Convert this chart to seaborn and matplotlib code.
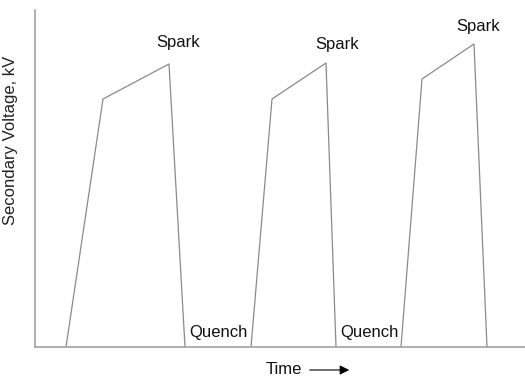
import pandas as pd
import numpy as np
import matplotlib.pyplot as plt
import seaborn as sns

# secondary voltage trace, three firing events (time, kV in arbitrary units)
wave_1_t = [31, 68, 134, 150]
wave_1_v = [0, 248, 283, 0]
wave_2_t = [216, 237, 291, 301]
wave_2_v = [0, 248, 284, 0]
wave_3_t = [366, 387, 439, 452]
wave_3_v = [0, 268, 303, 0]

waves = pd.concat([
    pd.DataFrame({'t': wave_1_t, 'v': wave_1_v, 'wave': 1}),
    pd.DataFrame({'t': wave_2_t, 'v': wave_2_v, 'wave': 2}),
    pd.DataFrame({'t': wave_3_t, 'v': wave_3_v, 'wave': 3}),
], ignore_index=True)

sns.set_theme(style="white")
plt.rcParams['font.family'] = ['Liberation Sans', 'DejaVu Sans']

fig = plt.figure(figsize=(5.25, 3.77), dpi=100)
ax = fig.add_axes([35 / 525, 30 / 377, 490 / 525, 337 / 377])

sns.lineplot(data=waves, x='t', y='v', units='wave', estimator=None, sort=False,
             color='#8a8a8a', linewidth=0.9, ax=ax)

ax.set_xlim(0, 490)
ax.set_ylim(0, 337)
ax.set_xticks([])
ax.set_yticks([])
ax.set_xlabel('')
ax.set_ylabel('Secondary Voltage, kV', fontsize=12, color='#222222')
ax.yaxis.set_label_coords(-0.035, 0.614)
sns.despine(ax=ax)
for side in ['left', 'bottom']:
    ax.spines[side].set_color('#9a9a9a')
    ax.spines[side].set_linewidth(1.1)

# labels
for x, y in [(143, 304), (302, 302), (443, 320)]:
    ax.text(x, y, 'Spark', fontsize=12, ha='center', va='center', color='#111111')
for x in [183, 334]:
    ax.text(x, 14, 'Quench', fontsize=12, ha='center', va='center', color='#111111')

fig.text(283.5 / 525, 8 / 377, 'Time', fontsize=12, ha='center', va='center', color='#111111')
ax.annotate('', xy=(352, 7), xytext=(307, 7), xycoords='figure pixels', textcoords='figure pixels',
            arrowprops=dict(arrowstyle='-|>', color='black', lw=0.8, mutation_scale=14))

plt.savefig('out.png', dpi=100)
